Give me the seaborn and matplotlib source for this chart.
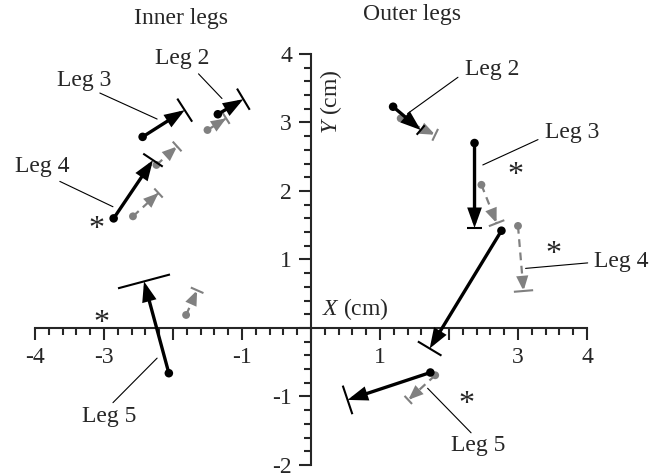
import numpy as np
import pandas as pd
import matplotlib
matplotlib.use("Agg")
import matplotlib.pyplot as plt
import seaborn as sns
from matplotlib.patches import FancyArrowPatch

# Mean step vectors (cm): start point, end point and spread bar half-width
legs = ["Leg 2", "Leg 3", "Leg 4", "Leg 5"]

inner_black_x0 = [-1.35, -2.44, -2.86, -2.06]
inner_black_y0 = [3.12, 2.79, 1.60, -0.66]
inner_black_x1 = [-0.98, -1.83, -2.29, -2.42]
inner_black_y1 = [3.34, 3.18, 2.45, 0.68]
inner_black_sd = [0.18, 0.20, 0.17, 0.39]

inner_gray_x0 = [-1.50, -2.24, -2.58, -1.81]
inner_gray_y0 = [2.89, 2.38, 1.63, 0.19]
inner_gray_x1 = [-1.23, -1.94, -2.21, -1.65]
inner_gray_y1 = [3.06, 2.65, 1.97, 0.55]
inner_gray_sd = [0.095, 0.095, 0.09, 0.10]

outer_black_x0 = [1.19, 2.37, 2.76, 1.73]
outer_black_y0 = [3.23, 2.70, 1.42, -0.65]
outer_black_x1 = [1.59, 2.37, 1.72, 0.53]
outer_black_y1 = [2.89, 1.46, -0.30, -1.05]
outer_black_sd = [0.09, 0.11, 0.20, 0.22]

outer_gray_x0 = [1.30, 2.47, 3.00, 1.80]
outer_gray_y0 = [3.06, 2.09, 1.49, -0.69]
outer_gray_x1 = [1.80, 2.69, 3.08, 1.41]
outer_gray_y1 = [2.82, 1.53, 0.54, -1.05]
outer_gray_sd = [0.095, 0.12, 0.14, 0.08]

# Leg labels and their leader lines
inner_label_x = [-1.87, -3.28, -3.89, -2.92]
inner_label_y = [3.94, 3.62, 2.36, -1.29]
inner_lead_x0 = [-1.63, -3.06, -3.64, -2.87]
inner_lead_y0 = [3.71, 3.43, 2.14, -1.09]
inner_lead_x1 = [-1.29, -2.23, -2.87, -2.23]
inner_lead_y1 = [3.35, 3.05, 1.77, -0.44]

outer_label_x = [2.63, 3.78, 4.49, 2.42]
outer_label_y = [3.77, 2.85, 0.97, -1.72]
outer_lead_x0 = [2.13, 3.29, 4.01, 2.32]
outer_lead_y0 = [3.66, 2.75, 0.95, -1.53]
outer_lead_x1 = [1.40, 2.49, 3.11, 1.69]
outer_lead_y1 = [3.13, 2.38, 0.87, -0.88]

# Significance markers
star_x = [-3.11, -3.03, 2.97, 3.51, 2.25]
star_y = [1.58, 0.21, 2.36, 1.21, -0.98]

x_ticks = [-4, -3, -2, -1, 0, 1, 2, 3, 4]
x_ticklabels = ["-4", "-3", "", "-1", "", "1", "", "3", "4"]
y_ticks = [-2, -1, 0, 1, 2, 3, 4]
y_ticklabels = ["-2", "-1", "", "1", "2", "3", "4"]

sns.set_style("ticks")
plt.rcParams["font.family"] = ["Liberation Serif", "DejaVu Serif"]
plt.rcParams["mathtext.fontset"] = "custom"
plt.rcParams["mathtext.rm"] = "Liberation Serif"
plt.rcParams["mathtext.it"] = "Liberation Serif:italic"

FS = 17
BLACK = "black"
GRAY = "#808080"

fig = plt.figure(figsize=(6.62, 4.73), dpi=100)
ax = fig.add_axes([0, 0, 1, 1])
ax.set_xlim(-4.507, 5.087)
ax.set_ylim(-2.117, 4.788)


def step_frame(x0, y0, x1, y1, sd):
    df = pd.DataFrame({"x0": x0, "y0": y0, "x1": x1, "y1": y1, "sd": sd})
    dx = df.x1 - df.x0
    dy = df.y1 - df.y0
    n = np.hypot(dx, dy)
    df["ux"], df["uy"] = dx / n, dy / n
    return df


def draw_steps(df, color, lw, dashed, head_len, head_w, bar_lw, dot_size, z):
    for r in df.itertuples():
        if dashed:
            ax.plot([r.x0, r.x1], [r.y0, r.y1], color=color, lw=lw,
                    ls=(0, (3.5, 2.5)), zorder=z, solid_capstyle="butt")
            tail = (r.x1 - r.ux * 0.1, r.y1 - r.uy * 0.1)
        else:
            tail = (r.x0, r.y0)
        arr = FancyArrowPatch(tail, (r.x1, r.y1),
                              arrowstyle=f"-|>,head_length={head_len},head_width={head_w}",
                              mutation_scale=10, lw=lw, color=color,
                              shrinkA=0, shrinkB=0, zorder=z + 0.1,
                              joinstyle="miter", capstyle="butt")
        ax.add_patch(arr)
        # spread bar perpendicular to the step at its end
        px, py = -r.uy * r.sd, r.ux * r.sd
        ax.plot([r.x1 - px, r.x1 + px], [r.y1 - py, r.y1 + py],
                color=color, lw=bar_lw, zorder=z + 0.2, solid_capstyle="butt")
    sns.scatterplot(data=df, x="x0", y="y0", color=color, s=dot_size,
                    edgecolor="none", ax=ax, zorder=z + 0.3, legend=False)


for x0, y0, x1, y1, sd in [
    (inner_gray_x0, inner_gray_y0, inner_gray_x1, inner_gray_y1, inner_gray_sd),
    (outer_gray_x0, outer_gray_y0, outer_gray_x1, outer_gray_y1, outer_gray_sd),
]:
    draw_steps(step_frame(x0, y0, x1, y1, sd), GRAY, 1.6, True, 0.8, 0.32, 1.5, 32, 3)

for x0, y0, x1, y1, sd in [
    (inner_black_x0, inner_black_y0, inner_black_x1, inner_black_y1, inner_black_sd),
    (outer_black_x0, outer_black_y0, outer_black_x1, outer_black_y1, outer_black_sd),
]:
    draw_steps(step_frame(x0, y0, x1, y1, sd), BLACK, 2.4, False, 1.0, 0.36, 1.5, 38, 5)

# Labels with leader lines
for lx, ly, ax0, ay0, ax1, ay1 in [
    (inner_label_x, inner_label_y, inner_lead_x0, inner_lead_y0, inner_lead_x1, inner_lead_y1),
    (outer_label_x, outer_label_y, outer_lead_x0, outer_lead_y0, outer_lead_x1, outer_lead_y1),
]:
    for name, tx, ty, a, b, c, d in zip(legs, lx, ly, ax0, ay0, ax1, ay1):
        ax.text(tx, ty, name, fontsize=FS, ha="center", va="center")
        ax.plot([a, c], [b, d], color="black", lw=0.8, zorder=2)

for sx, sy in zip(star_x, star_y):
    ax.text(sx, sy - 0.25, "*", fontsize=23, ha="center", va="baseline")

ax.text(-1.89, 4.52, "Inner legs", fontsize=FS, ha="center", va="center")
ax.text(1.46, 4.57, "Outer legs", fontsize=FS, ha="center", va="center")
ax.text(0.64, 0.27, "$X$ (cm)", fontsize=FS, ha="center", va="center")
ax.text(0.29, 3.30, "$Y$ (cm)", fontsize=FS, ha="center", va="center", rotation=90)

# Axes crossing at the origin
for s in ["top", "right"]:
    ax.spines[s].set_visible(False)
ax.spines["left"].set_position(("data", 0))
ax.spines["bottom"].set_position(("data", 0))
ax.spines["left"].set_bounds(-2, 4)
ax.spines["bottom"].set_bounds(-4, 4)
for s in ["left", "bottom"]:
    ax.spines[s].set_linewidth(1.5)

ax.set_xticks(x_ticks)
ax.set_xticklabels(x_ticklabels)
ax.set_yticks(y_ticks)
ax.set_yticklabels(y_ticklabels)
ax.set_xticks(np.linspace(-4, 4, 41), minor=True)
ax.set_yticks(np.linspace(-2, 4, 31), minor=True)
ax.tick_params(which="major", direction="out", length=8.6, width=1.5,
               labelsize=FS, pad=5)
ax.tick_params(which="minor", direction="out", length=5, width=1.5)
ax.set_xlabel("")
ax.set_ylabel("")

fig.savefig("out.png", dpi=100)
